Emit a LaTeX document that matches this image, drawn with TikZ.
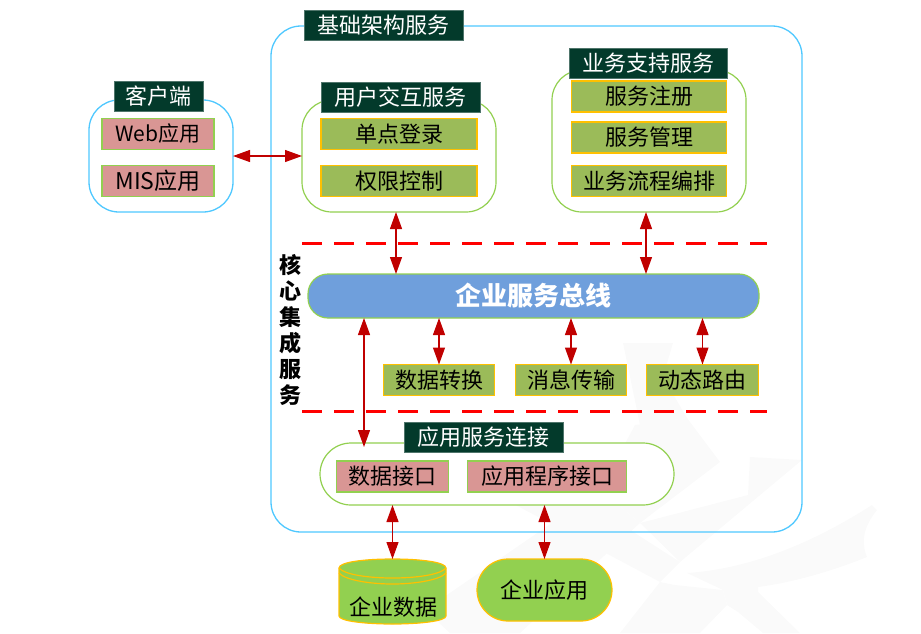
\documentclass[tikz,border=0pt]{standalone}
\usepackage{fontspec}
\setmainfont{Noto Sans CJK SC}
\usetikzlibrary{arrows.meta}
\definecolor{ttl}{HTML}{033A2B}
\definecolor{pinkf}{HTML}{D99694}
\definecolor{olivef}{HTML}{9BBB59}
\definecolor{yel}{HTML}{FFC000}
\definecolor{grn}{HTML}{92D050}
\definecolor{sky}{HTML}{4FC8FF}
\definecolor{busf}{HTML}{6F9FDC}
\definecolor{arr}{HTML}{C00000}
\definecolor{wm}{HTML}{FAFAFA}
\tikzset{
  every node/.style={inner sep=0pt,outer sep=0pt,font=\fontsize{22}{26}\selectfont},
  outerbox/.style={draw=sky,line width=1.3pt,fill=none,rounded corners=30pt},
  clientbox/.style={draw=sky,line width=1.3pt,fill=white,rounded corners=30pt},
  groupbox/.style={draw=grn,line width=1.2pt,fill=white,rounded corners=30pt},
  titlebox/.style={fill=ttl,text=white,draw=ttl!70!white,line width=.5pt,minimum height=30pt},
  pinkbox/.style={fill=pinkf,draw=grn,line width=1.2pt,minimum height=31pt},
  olivebox/.style={fill=olivef,draw=yel,line width=1.2pt,minimum height=31pt},
  both/.style={draw=arr,line width=1.2pt,{Triangle[length=17pt,width=12pt]}-{Triangle[length=17pt,width=12pt]}},
  sep/.style={draw=red,line width=3pt,dash pattern=on 20pt off 12pt},
  wmshape/.style={fill=wm,draw=none}
}
\begin{document}
\begin{tikzpicture}[x=1pt,y=-1pt]
\useasboundingbox (0,0) rectangle (921,633);
% watermark
\fill[wmshape] (623,343) -- (673,343) -- (663,377) -- (687,418) -- (640,425) -- cycle;
\fill[wmshape] (635,425) -- (687,418) -- (720,462) -- (640,523) -- (600,490) -- cycle;
\fill[wmshape] (600,490) -- (640,523) -- (520,633) -- (450,633) -- (425,610) -- cycle;
\fill[wmshape] (450,470) -- (490,440) -- (680,562) -- (660,582) -- cycle;
\fill[wmshape] (750,457) -- (802,460) -- (680,562) -- (640,523) -- (748,495) -- cycle;
\fill[wmshape] (660,582) -- (675,585) -- (723,590) -- (727,605) -- (700,633) -- (620,633) -- cycle;
\fill[wmshape] (687,573) .. controls (760,568) and (825,535) .. (872,505) -- (877,510) .. controls (865,525) and (860,540) .. (867,557) .. controls (830,572) and (790,583) .. (758,587) -- (758,592) -- (800,633) -- (763,633) -- (738,612) -- (727,605) -- (723,590) -- cycle;
% boxes
\node[outerbox,minimum width=531pt,minimum height=506pt] (infra) at (536.5,279) {};
\node[clientbox,minimum width=144pt,minimum height=112pt] (client) at (161,156) {};
\node[groupbox,minimum width=194pt,minimum height=112pt] (user) at (399,156) {};
\node[groupbox,minimum width=194pt,minimum height=142pt] (support) at (649,141) {};
\node[groupbox,minimum width=354pt,minimum height=62pt,rounded corners=31pt] (appconn) at (497,474) {};
% titles
\node[titlebox,minimum width=159pt] (t0) at (383.5,25.5) {基础架构服务};
\node[titlebox,minimum width=89pt] (t1) at (158.5,96.5) {客户端};
\node[titlebox,minimum width=159pt] (t2) at (400.5,97) {用户交互服务};
\node[titlebox,minimum width=158pt] (t3) at (648,63) {业务支持服务};
\node[titlebox,minimum width=159pt] (t4) at (483.5,437) {应用服务连接};
% client
\node[pinkbox,minimum width=112pt,font=\fontsize{21}{26}\selectfont] (web) at (158,134) {Web应用};
\node[pinkbox,minimum width=112pt,font=\fontsize{23}{26}\selectfont] (mis) at (158,181) {MIS应用};
% user
\node[olivebox,minimum width=156pt] (sso) at (399,134) {单点登录};
\node[olivebox,minimum width=156pt] (acl) at (399,181) {权限控制};
% support
\node[olivebox,minimum width=155pt] (reg) at (649,96.5) {服务注册};
\node[olivebox,minimum width=155pt] (mgr) at (649,137.5) {服务管理};
\node[olivebox,minimum width=155pt] (flow) at (649,181) {业务流程编排};
% separators
\coordinate (s1a) at (302,243); \coordinate (s1b) at (767,243);
\coordinate (s2a) at (302,411); \coordinate (s2b) at (767,411);
\draw[sep] (s1a) -- (s1b);
\draw[sep] (s2a) -- (s2b);
% core
\node[align=center,font=\fontsize{22}{26}\selectfont\bfseries] (core) at (290,329.5) {核\\心\\集\\成\\服\\务};
\node[fill=busf,draw=grn,line width=1.2pt,rounded corners=20pt,minimum width=451pt,minimum height=44pt,text=white,font=\fontsize{26}{30}\selectfont\bfseries] (bus) at (533.5,296) {企业服务总线};
\node[olivebox,minimum width=111pt] (conv) at (439,380) {数据转换};
\node[olivebox,minimum width=111pt] (msg) at (571,380) {消息传输};
\node[olivebox,minimum width=112pt] (route) at (702.5,380) {动态路由};
% app
\node[pinkbox,minimum width=112pt] (dif) at (392.5,476.5) {数据接口};
\node[pinkbox,minimum width=159pt] (api) at (547,476.5) {应用程序接口};
% bottom
\draw[fill=grn,draw=yel,line width=1.2pt] (339,568) .. controls (339,562) and (365,559) .. (392.5,559) .. controls (420,559) and (446,562) .. (446,568) -- (446,616) .. controls (446,621) and (420,624) .. (392.5,624) .. controls (365,624) and (339,621) .. (339,616) -- cycle;
\draw[draw=yel,line width=1.2pt] (339,568) .. controls (345,575) and (370,578) .. (392.5,578) .. controls (415,578) and (440,575) .. (446,568);
\draw[draw=yel,line width=1.2pt] (339,573) .. controls (345,580) and (370,584) .. (392.5,584) .. controls (415,584) and (440,580) .. (446,573);
\node[minimum width=107pt,minimum height=65pt] (db) at (392.5,591.5) {};
\node (dbt) at (393,607) {企业数据};
\node[fill=grn,draw=yel,line width=1.2pt,rounded corners=31pt,minimum width=135pt,minimum height=62pt] (app) at (544.5,590) {企业应用};
% connectors
\draw[both] (client.east) -- (user.west);
\draw[both] ([xshift=-3pt]user.south) -- ([xshift=-3pt]user.south |- bus.north);
\draw[both] ([xshift=-3pt]support.south) -- ([xshift=-3pt]support.south |- bus.north);
\draw[both] (conv.north |- bus.south) -- (conv.north);
\draw[both] (msg.north |- bus.south) -- (msg.north);
\draw[both] (route.north |- bus.south) -- (route.north);
\coordinate (dj) at (364,447);
\draw[both] (dj |- bus.south) -- (dj);
\draw[both] (db.north |- appconn.south) -- (db.north);
\draw[both] (app.north |- appconn.south) -- (app.north);
\end{tikzpicture}
\end{document}
